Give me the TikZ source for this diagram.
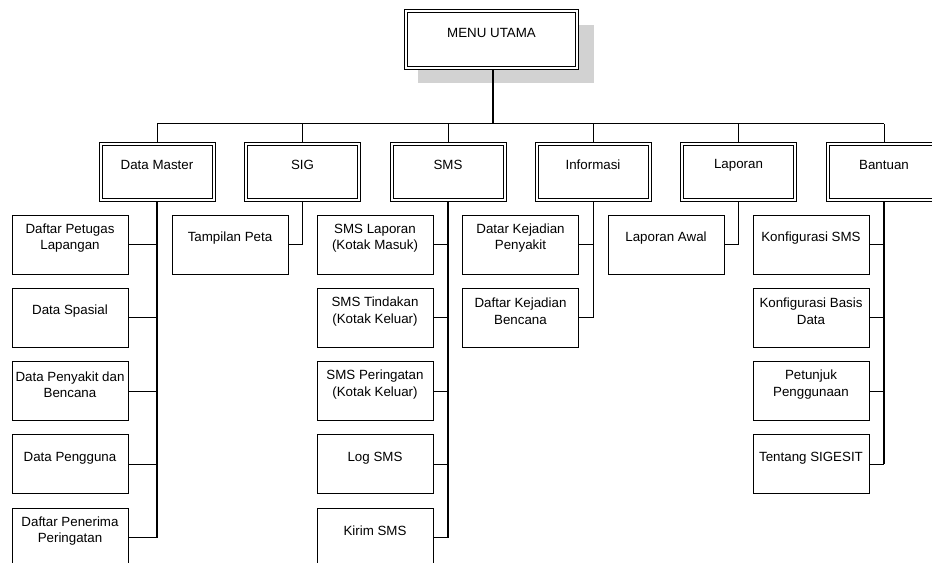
\documentclass[tikz,border=0pt]{standalone}
\usepackage{fontspec}
\setmainfont{Liberation Sans}
\usepackage{tikz}

\tikzset{
  menubox/.style={draw, line width=0.6pt, fill=white,
    minimum width=87pt, minimum height=44.25pt, inner sep=0pt,
    path picture={\draw[line width=0.6pt]
      ([shift={(2.25pt,-2.25pt)}]path picture bounding box.north west) rectangle
      ([shift={(-2.25pt,2.25pt)}]path picture bounding box.south east);}},
  itembox/.style={draw, line width=0.6pt, fill=white,
    minimum width=87pt, minimum height=44.25pt, inner sep=0pt},
  every label/.style={align=center, yshift=4.8pt, font=\fontsize{10}{12.5}\selectfont},
  link/.style={line width=0.6pt},
  trunk/.style={line width=1.2pt},
}

\begin{document}
\begin{tikzpicture}[x=0.75pt, y=-0.75pt]
    \useasboundingbox (0,0) rectangle (932,562);
    \clip (0,0) rectangle (932,562);

    % Main menu with shadow
    \fill[gray!35] (418,25) rectangle (594,83);
    \node[menubox, minimum width=130.5pt, minimum height=45pt, label=center:MENU UTAMA] (menu) at (491.5,39.5) {};

    % First level
    \node[menubox, label=center:Data Master] (master) at (157,171.5) {};
    \node[menubox, label=center:SIG] (sig) at (302.5,171.5) {};
    \node[menubox, label=center:SMS] (sms) at (448,171.5) {};
    \node[menubox, label=center:Informasi] (info) at (593,171.5) {};
    \node[menubox, label=center:Laporan] (lapor) at (738.5,171.5) {};
    \node[menubox, label=center:Bantuan] (bantu) at (884,171.5) {};

    % Bus from main menu
    \coordinate (bus) at (493,123.5);
    \draw[trunk] (menu.south -| bus) -- (bus);
    \draw[link] (master.north |- bus) -- (bantu.north |- bus);
    \draw[link] (master.north) -- (master.north |- bus)
                (sig.north) -- (sig.north |- bus)
                (sms.north) -- (sms.north |- bus)
                (info.north) -- (info.north |- bus)
                (lapor.north) -- (lapor.north |- bus)
                (bantu.north) -- (bantu.north |- bus);

    % Data Master
    \node[itembox, label=center:{Daftar Petugas\\Lapangan}] (master-1) at (70,244.5) {};
    \node[itembox, label=center:Data Spasial] (master-2) at (70,317.75) {};
    \node[itembox, label=center:{Data Penyakit dan\\Bencana}] (master-3) at (70,391) {};
    \node[itembox, label=center:Data Pengguna] (master-4) at (70,464.25) {};
    \node[itembox, label=center:{Daftar Penerima\\Peringatan}] (master-5) at (70,537.5) {};
    \draw[trunk] (master.south) -- (master.south |- master-5.east);
    \draw[link] (master-1.east) -- (master-1.east -| master.south)
                (master-2.east) -- (master-2.east -| master.south)
                (master-3.east) -- (master-3.east -| master.south)
                (master-4.east) -- (master-4.east -| master.south)
                (master-5.east) -- (master-5.east -| master.south);

    % SIG
    \node[itembox, label=center:Tampilan Peta] (sig-1) at (230,244.5) {};
    \draw[link] (sig.south) -- (sig.south |- sig-1.east) -- (sig-1.east);

    % SMS
    \node[itembox, label=center:{SMS Laporan\\(Kotak Masuk)}] (sms-1) at (375,244.5) {};
    \node[itembox, label=center:{SMS Tindakan\\(Kotak Keluar)}] (sms-2) at (375,317.75) {};
    \node[itembox, label=center:{SMS Peringatan\\(Kotak Keluar)}] (sms-3) at (375,391) {};
    \node[itembox, label=center:Log SMS] (sms-4) at (375,464.25) {};
    \node[itembox, label=center:Kirim SMS] (sms-5) at (375,537.5) {};
    \draw[trunk] (sms.south) -- (sms.south |- sms-5.east);
    \draw[link] (sms-1.east) -- (sms-1.east -| sms.south)
                (sms-2.east) -- (sms-2.east -| sms.south)
                (sms-3.east) -- (sms-3.east -| sms.south)
                (sms-4.east) -- (sms-4.east -| sms.south)
                (sms-5.east) -- (sms-5.east -| sms.south);

    % Informasi
    \node[itembox, label=center:{Datar Kejadian\\Penyakit}] (info-1) at (520.5,244.5) {};
    \node[itembox, label=center:{Daftar Kejadian\\Bencana}] (info-2) at (520.5,317.75) {};
    \draw[link] (info.south) -- (info.south |- info-2.east) -- (info-2.east)
                (info-1.east) -- (info-1.east -| info.south);

    % Laporan
    \node[itembox, label=center:Laporan Awal] (lapor-1) at (666,244.5) {};
    \draw[link] (lapor.south) -- (lapor.south |- lapor-1.east) -- (lapor-1.east);

    % Bantuan
    \node[itembox, label=center:Konfigurasi SMS] (bantu-1) at (811,244.5) {};
    \node[itembox, label=center:{Konfigurasi Basis\\Data}] (bantu-2) at (811,317.75) {};
    \node[itembox, label=center:{Petunjuk\\Penggunaan}] (bantu-3) at (811,391) {};
    \node[itembox, label=center:Tentang SIGESIT] (bantu-4) at (811,464.25) {};
    \draw[trunk] (bantu.south) -- (bantu.south |- bantu-4.east);
    \draw[link] (bantu-1.east) -- (bantu-1.east -| bantu.south)
                (bantu-2.east) -- (bantu-2.east -| bantu.south)
                (bantu-3.east) -- (bantu-3.east -| bantu.south)
                (bantu-4.east) -- (bantu-4.east -| bantu.south);
\end{tikzpicture}
\end{document}
